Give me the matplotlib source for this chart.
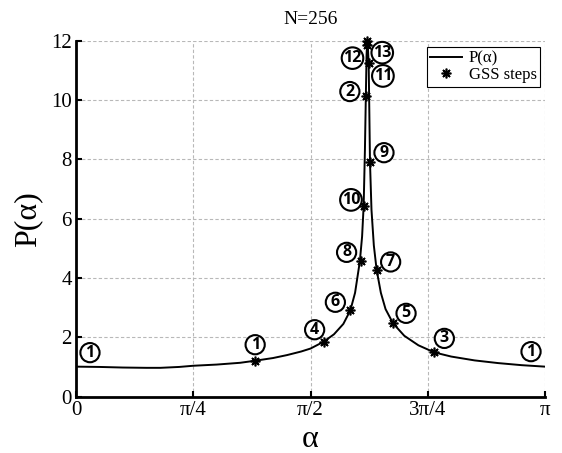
import numpy as np
import matplotlib
matplotlib.use("Agg")
import matplotlib.pyplot as plt

# P(alpha) curve, alpha in units of pi
alpha_curve = [0.00, 0.05, 0.10, 0.15, 0.18, 0.22, 0.25, 0.30, 0.35, 0.382, 0.42, 0.45,
               0.48, 0.50, 0.528, 0.55, 0.57, 0.585, 0.595, 0.6052, 0.610, 0.6133, 0.616,
               0.618, 0.6195, 0.6208, 0.6222, 0.624, 0.6255, 0.6268, 0.630, 0.635, 0.641,
               0.65, 0.66, 0.676, 0.70, 0.73, 0.764, 0.80, 0.85, 0.90, 0.95, 1.00]
p_curve = [1.01, 1.00, 0.98, 0.97, 0.97, 1.00, 1.04, 1.08, 1.14, 1.21, 1.30, 1.40,
           1.52, 1.62, 1.85, 2.10, 2.45, 2.91, 3.50, 4.56, 5.40, 6.43, 8.30,
           10.15, 11.50, 12.00, 11.80, 11.25, 9.50, 7.92, 6.30, 5.10, 4.27,
           3.50, 2.95, 2.47, 2.05, 1.73, 1.49, 1.35, 1.22, 1.13, 1.06, 1.01]

# golden section search steps
gss_alpha = [0.382, 0.618, 0.764, 0.528, 0.676, 0.585, 0.641, 0.6068, 0.6268, 0.614,
             0.6245, 0.6215, 0.621]
gss_p = [1.21, 10.15, 1.49, 1.85, 2.47, 2.91, 4.27, 4.56, 7.92, 6.43, 11.25, 11.85, 12.0]
gss_step = ['1', '2', '3', '4', '5', '6', '7', '8', '9', '10', '11', '12', '13']

plt.rcParams['font.family'] = ['Liberation Serif', 'DejaVu Serif']

fig = plt.figure(figsize=(5.62, 4.53), dpi=100)
ax = fig.add_axes([0.1352, 0.1245, 0.8346, 0.7857])

x = np.array(alpha_curve) * np.pi
xs = np.array(gss_alpha) * np.pi
ax.plot(x, p_curve, color='black', lw=1.4, label='P(α)')
ax.plot(xs, gss_p, ls='none', marker=(8, 2, 0), ms=7, mew=1.2, color='black',
        label='GSS steps', clip_on=False, zorder=4)

# circled step numbers, offsets in pixels from the point
offsets = [(0, 16), (-16, 4), (10, 14), (-9, 12), (13, 10), (-15, 8), (14, 8),
           (-14, 9), (14, 9), (-13, 6), (14, -13), (-15, -13), (15, -12)]
circ = dict(boxstyle='circle,pad=0.1', fc='white', ec='black', lw=1.5)
lab_font = dict(family='Open Sans', weight='bold', size=11.5)
for xi, yi, s, off in zip(xs, gss_p, gss_step, offsets):
    ax.annotate(s, (xi, yi), xytext=off, textcoords='offset pixels',
                ha='center', va='center', bbox=circ, zorder=5, **lab_font)
# initial interval ends
ax.annotate('1', (0, p_curve[0]), xytext=(14, 14), textcoords='offset pixels',
            ha='center', va='center', bbox=circ, zorder=5, **lab_font)
ax.annotate('1', (np.pi, p_curve[-1]), xytext=(-14, 15), textcoords='offset pixels',
            ha='center', va='center', bbox=circ, zorder=5, **lab_font)

ax.set_xlim(0, np.pi)
ax.set_ylim(0, 12)
ax.set_xticks(np.pi * np.array([0, 0.25, 0.5, 0.75, 1]))
ax.set_xticklabels(['0', 'π/4', 'π/2', '3π/4', 'π'])
ax.set_yticks(np.arange(0, 13, 2))
ax.tick_params(direction='in', length=4, width=1.5, labelsize=15, pad=3)
ax.grid(True, ls=(0, (3, 2)), color='#b8b8b8', lw=0.8)
for sp in ['top', 'right']:
    ax.spines[sp].set_visible(False)
for sp in ['left', 'bottom']:
    ax.spines[sp].set_linewidth(2)

ax.set_title('N=256', fontsize=14, pad=12)
ax.set_xlabel('α', fontsize=23, labelpad=4)
ax.set_ylabel('P(α)', fontsize=23, labelpad=6)

leg = ax.legend(loc='upper right', bbox_to_anchor=(0.9893, 0.982), fontsize=12,
                fancybox=False, framealpha=1, edgecolor='black', handlelength=1.9,
                borderpad=0.2, labelspacing=0.05, handletextpad=0.4,
                borderaxespad=0)
leg.get_frame().set_linewidth(0.8)

plt.savefig('out.png', dpi=100)
